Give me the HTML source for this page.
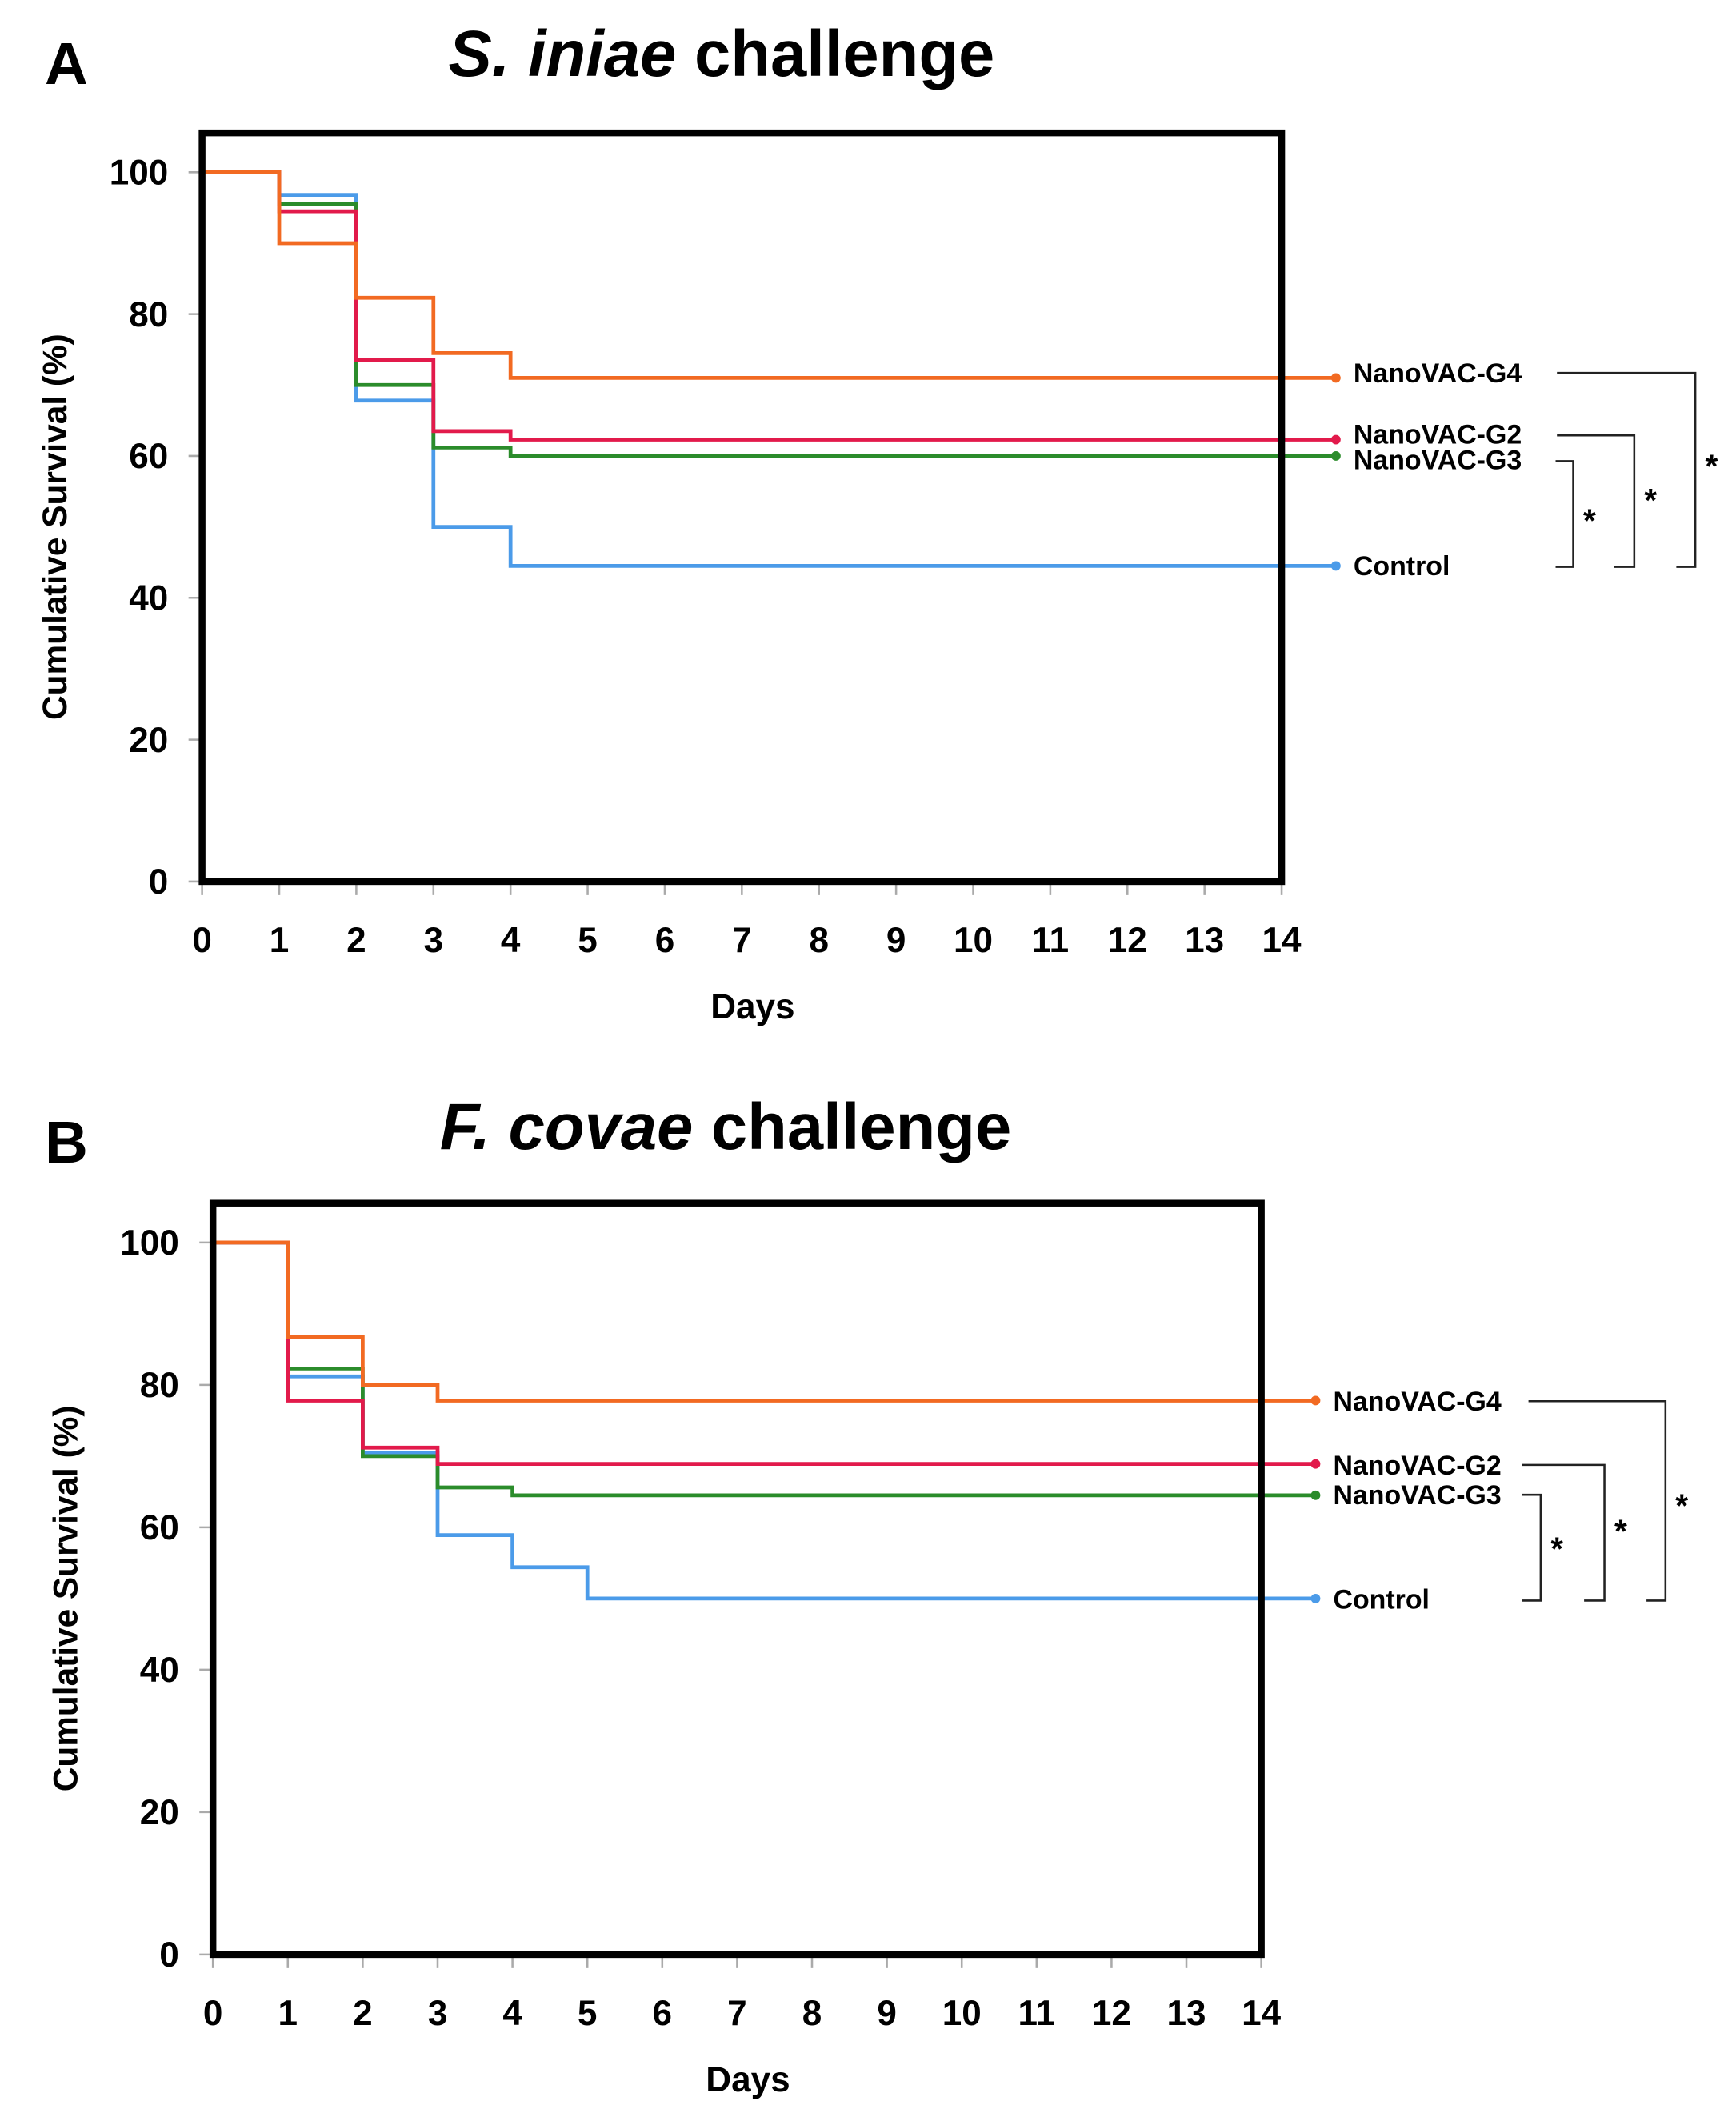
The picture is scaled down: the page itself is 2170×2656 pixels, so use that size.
<!DOCTYPE html>
<html><head><meta charset="utf-8"><style>
html,body{margin:0;padding:0;background:#fff;}
svg{display:block;font-family:"Liberation Sans",Arial,sans-serif;font-weight:bold;}
</style></head><body>
<svg id="fig" width="2170" height="2656" viewBox="0 0 1280 1566.7" xmlns="http://www.w3.org/2000/svg"></svg>
<script>
const days = [0,1,2,3,4,5,6,7,8,9,10,11,12,13,14];
const yTicks = [0,20,40,60,80,100];
const seriesNames = ["NanoVAC-G4","NanoVAC-G2","NanoVAC-G3","Control"];
const seriesColors = ["#f26a22","#e21a4b","#2b8c2b","#4b9be9"];
const aG4 = [100,90,82.3,74.5,71];
const aG2 = [100,94.5,73.5,63.5,62.3];
const aG3 = [100,95.5,70,61.2,60];
const aCtl = [100,96.8,67.8,50,44.5];
const bG4 = [100,86.7,80,77.8];
const bG2 = [100,77.8,71.2,68.9];
const bG3 = [100,82.3,70,65.6,64.5];
const bCtl = [100,81.2,70.5,58.9,54.4,50];

const NS="http://www.w3.org/2000/svg";
const svg=document.getElementById('fig');
function mk(tag,attrs,parent,text){const e=document.createElementNS(NS,tag);for(const k in attrs)e.setAttribute(k,attrs[k]);if(text!==undefined)e.textContent=text;(parent||svg).appendChild(e);return e;}

function panel(p){
  const g=mk('g',{});
  
  
  const xs=d=>p.L+(p.R-p.L)*d/14;
  const ys=v=>p.y0+(p.y100-p.y0)*v/100;
  let t=mk('text',{x:p.lx,y:p.ly,'font-size':44},g,p.letter);
  
  
  t=mk('text',{x:p.tx,y:p.ty,'font-size':48,'text-anchor':'middle'},g);
  
  
  mk('tspan',{'font-style':'italic'},t,p.it);
  mk('tspan',{},t,' challenge');
  days.forEach(d=>{
    const l=mk('line',{x1:xs(d),x2:xs(d),y1:p.B,y2:p.B+10,stroke:'#aaa','stroke-width':1.5},g);
    
    
    const tx=mk('text',{x:xs(d),y:p.B+52,'font-size':26,'text-anchor':'middle'},g,String(d));
    
    
  });
  yTicks.forEach(v=>{
    const l=mk('line',{x1:p.L-10,x2:p.L,y1:ys(v),y2:ys(v),stroke:'#aaa','stroke-width':1.5},g);
    
    
    const tx=mk('text',{x:p.L-25,y:ys(v)+9,'font-size':26,'text-anchor':'end'},g,String(v));
    
    
  });
  t=mk('text',{x:(p.L+p.R)/2+8,y:p.B+101,'font-size':26,'text-anchor':'middle'},g,'Days');
  
  
  const cy=(p.y0+p.y100)/2;
  t=mk('text',{x:p.ytx,y:cy,'font-size':25,'text-anchor':'middle',transform:`rotate(-90 ${p.ytx} ${cy})`},g,'Cumulative Survival (%)');
  
  
  const order=[3,2,1,0];
  order.forEach(i=>{
    const vals=p.data[i];
    let d=`M${xs(0)},${ys(vals[0])}`;
    for(let k=0;k<vals.length;k++){
      const xe = k<vals.length-1 ? xs(k+1) : xs(14);
      d+=` L${xe},${ys(vals[k])}`;
      if(k<vals.length-1) d+=` L${xe},${ys(vals[k+1])}`;
    }
    const last=vals[vals.length-1];
    d+=` L${p.dotX},${ys(last)}`;
    const path=mk('path',{d:d,fill:'none',stroke:seriesColors[i],'stroke-width':2.8},g);
    
    
    const c=mk('circle',{cx:p.dotX,cy:ys(last),r:3.5,fill:seriesColors[i]},g);
    
    
  });
  const r=mk('rect',{x:p.L,y:p.T,width:p.R-p.L,height:p.B-p.T,fill:'none',stroke:'#000','stroke-width':5},g);
  
  
  p.labY.forEach((y,i)=>{
    const tx=mk('text',{x:p.dotX+13,y:y+7,'font-size':20},g,seriesNames[i]);
    
    
  });
  p.br.forEach(b=>{
    const pl=mk('polyline',{points:`${b[0]},${b[1]} ${b[2]},${b[1]} ${b[2]},${b[3]} ${b[4]},${b[3]}`,fill:'none',stroke:'#222','stroke-width':1.5},g);
    
    
    const s=mk('text',{x:b[2]+12,y:b[5],'font-size':24,'text-anchor':'middle'},g,'*');
    
    
  });
}
panel({id:'a',letter:'A',lx:33,ly:62,tx:532,ty:56,it:'S. iniae',L:149,R:945,T:98,B:650,y0:650,y100:127,ytx:49,dotX:985,
  data:[aG4,aG2,aG3,aCtl],labY:[275,320,339,417],
  br:[[1148,275,1250,418,1236,352],[1148,321,1205,418,1190,377],[1147,340,1160,418,1147,392]]});
panel({id:'b',letter:'B',lx:33,ly:857,tx:535,ty:847,it:'F. covae',L:157,R:930,T:887,B:1441,y0:1441,y100:916,ytx:57,dotX:970,
  data:[bG4,bG2,bG3,bCtl],labY:[1033,1080,1102,1179],
  br:[[1127,1033,1228,1180,1214,1118],[1122,1080,1183,1180,1168,1137],[1122,1102,1136,1180,1122,1150]]});
</script>
</body></html>
